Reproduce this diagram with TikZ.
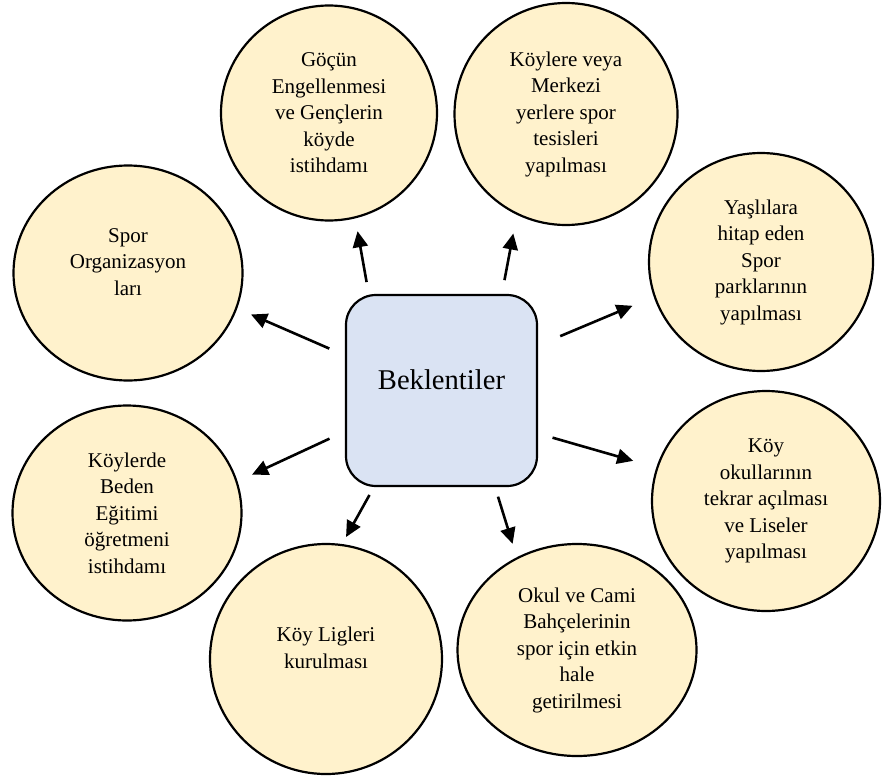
\documentclass[tikz,border=0pt]{standalone}
\usepackage{fontspec}
\setmainfont{Liberation Serif}
\usetikzlibrary{shapes.geometric,arrows.meta}

\definecolor{goalfill}{HTML}{FFF2CC}
\definecolor{hubfill}{HTML}{DAE3F3}

\begin{document}
\begin{tikzpicture}[x=1pt, y=-1pt,
    goal/.style={ellipse, draw, line width=2.2pt, fill=goalfill, inner sep=0pt,
      align=center, font=\fontsize{21}{26.5}\selectfont},
    hub/.style={rectangle, draw, line width=2.2pt, fill=hubfill, rounded corners=30pt,
      minimum width=191pt, minimum height=191pt, inner sep=0pt,
      text depth=22pt, font=\fontsize{28.6}{34}\selectfont},
    arr/.style={-{Triangle[length=16pt,width=15pt]}, line width=2.6pt}]
  \useasboundingbox (0,0) rectangle (882,776);

  \node[hub] (box) at (441.5,390.5) {Beklentiler};

  \node[goal, minimum width=216pt, minimum height=215pt] (goc) at (329,113)
    {Göçün\\Engellenmesi\\ve Gençlerin\\köyde\\istihdamı};
  \node[goal, minimum width=223pt, minimum height=222pt] (tesis) at (566,114)
    {Köylere veya\\Merkezi\\yerlere spor\\tesisleri\\yapılması};
  \node[goal, minimum width=224pt, minimum height=218pt] (park) at (761,262)
    {Yaşlılara\\hitap eden\\Spor\\parklarının\\yapılması};
  \node[goal, minimum width=228pt, minimum height=220pt] (okul) at (766,501)
    {Köy\\okullarının\\tekrar açılması\\ve Liseler\\yapılması};
  \node[goal, minimum width=239pt, minimum height=212pt] (bahce) at (577,650)
    {Okul ve Cami\\Bahçelerinin\\spor için etkin\\hale\\getirilmesi};
  \node[goal, minimum width=232pt, minimum height=230pt] (lig) at (326,659)
    {Köy Ligleri\\kurulması\\[-4pt]\mbox{}};
  \node[goal, minimum width=229pt, minimum height=215pt] (beden) at (127,513)
    {Köylerde\\Beden\\Eğitimi\\öğretmeni\\istihdamı};
  \node[goal, minimum width=229pt, minimum height=215pt] (org) at (128,273)
    {Spor\\Organizasyon\\ları\\[-4pt]\mbox{}};

  % arrows leave the box and stop short of each goal
  \foreach \n/\a/\b/\sa/\sb in {goc/127.7/-76.1/12pt/13pt, tesis/58.2/-116.2/14pt/19pt,
      park/25.6/-162.4/24pt/23pt, okul/-24.2/163.7/15pt/24pt,
      bahce/-61.0/123.6/10pt/14pt, lig/-125.2/82.0/9pt/8pt,
      beden/-157.2/16.3/17pt/16pt, org/160.8/-18.9/17pt/15pt}
    \draw[arr, shorten <=\sa, shorten >=\sb] (box.\a) -- (\n.\b);
\end{tikzpicture}
\end{document}
